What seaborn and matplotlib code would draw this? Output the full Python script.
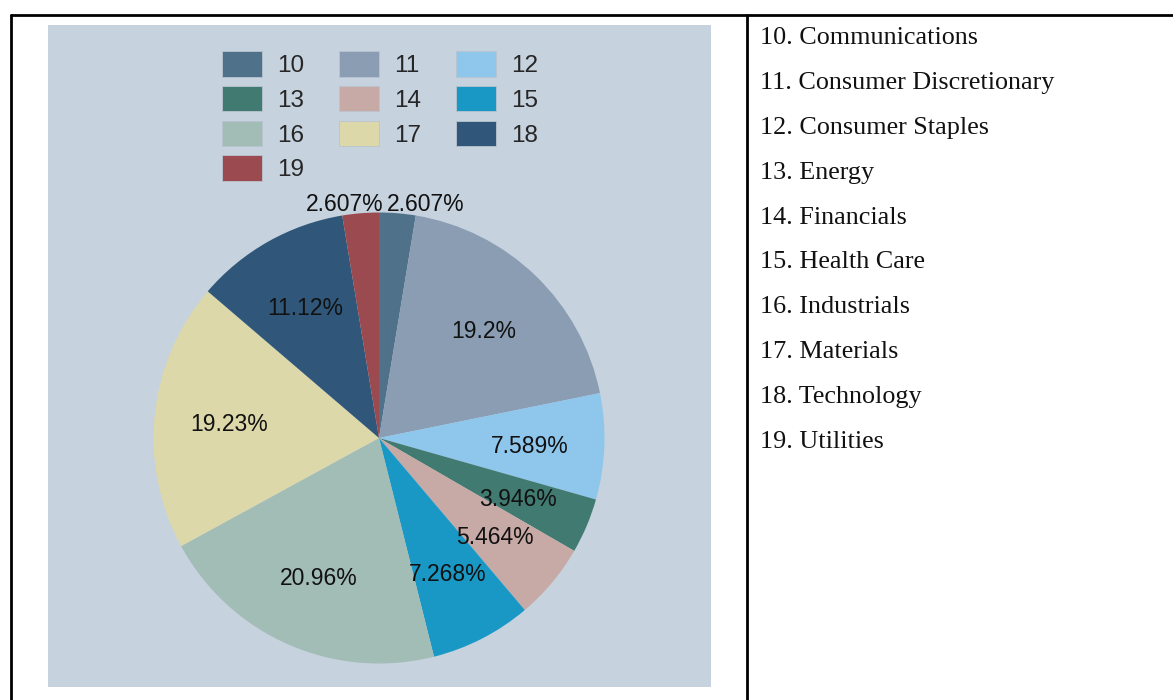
import numpy as np
import matplotlib
matplotlib.use("Agg")
import matplotlib.pyplot as plt
import seaborn as sns
from matplotlib.lines import Line2D
from matplotlib.patches import Patch

# data
codes = ['10', '11', '12', '13', '14', '15', '16', '17', '18', '19']
sectors = ['Communications', 'Consumer Discretionary', 'Consumer Staples', 'Energy',
           'Financials', 'Health Care', 'Industrials', 'Materials', 'Technology', 'Utilities']
shares = [2.607, 19.2, 7.589, 3.946, 5.464, 7.268, 20.96, 19.23, 11.12, 2.607]
share_labels = ['2.607%', '19.2%', '7.589%', '3.946%', '5.464%', '7.268%',
                '20.96%', '19.23%', '11.12%', '2.607%']
colors = ['#4f7189', '#8a9db2', '#8fc6ec', '#417a70', '#c7a9a5',
          '#1998c5', '#a2bcb6', '#dcd8aa', '#305779', '#9b4a4f']

sns.set_theme(style='white')
plt.rcParams['font.family'] = ['Liberation Sans', 'DejaVu Sans']
palette = sns.color_palette(colors)

W, H = 1173, 700
fig = plt.figure(figsize=(W / 100, H / 100), dpi=100)
fig.patch.set_facecolor('white')

# table borders
lw = 2.0
fig.add_artist(Line2D([10.5 / W, 1], [1 - 14.5 / H, 1 - 14.5 / H], color='black', lw=lw))
fig.add_artist(Line2D([10.5 / W, 10.5 / W], [0, 1 - 14.5 / H], color='black', lw=lw))
fig.add_artist(Line2D([747 / W, 747 / W], [0, 1 - 14.5 / H], color='black', lw=lw))

# chart panel
x0, x1, y0, y1 = 48, 711, 25, 687
ax = fig.add_axes([x0 / W, 1 - y1 / H, (x1 - x0) / W, (y1 - y0) / H])
cx, cy, r = 379, 438, 225.5

wedges, _ = ax.pie(shares, colors=palette, startangle=90, counterclock=False,
                   radius=1, frame=True, wedgeprops=dict(linewidth=0))
ax.set_xlim(-(cx - x0) / r, (x1 - cx) / r)
ax.set_ylim(-(y1 - cy) / r, (cy - y0) / r)
ax.set_aspect('auto')
ax.set_facecolor('#c6d2de')
ax.set_xticks([])
ax.set_yticks([])
for s in ax.spines.values():
    s.set_visible(False)

for w, lab, v in zip(wedges, share_labels, shares):
    mid = np.deg2rad((w.theta1 + w.theta2) / 2)
    if v < 3:
        # small slices labelled just outside, next to the top edge
        side = np.sign(np.cos(mid))
        ax.text(0.028 + side * 0.007, 1.005, lab, ha='left' if side > 0 else 'right',
                va='baseline', fontsize=16.5, color='#111111')
    else:
        ax.text(0.67 * np.cos(mid), 0.67 * np.sin(mid), lab, ha='center',
                va='center_baseline', fontsize=16.5, color='#111111')

# legend filled row by row, 3 per row
handles = [Patch(facecolor=c, edgecolor='#b8c4d0', linewidth=0.6) for c in palette]
order = [0, 3, 6, 9, 1, 4, 7, 2, 5, 8]
ax.legend([handles[i] for i in order], [codes[i] for i in order], ncol=3, loc='upper left',
          bbox_to_anchor=(222 / W, 1 - 51 / H), bbox_transform=fig.transFigure,
          frameon=False, fontsize=17.5, borderpad=0, borderaxespad=0,
          handlelength=1.65, handleheight=1.25, handletextpad=0.6,
          columnspacing=1.45, labelspacing=0.36)

# sector key on the right
for i, (c, name) in enumerate(zip(codes, sectors)):
    fig.text(760 / W, 1 - (36 + i * 44.8) / H, f'{c}. {name}', ha='left', va='center_baseline',
             fontsize=18.8, family=['Liberation Serif', 'DejaVu Serif'], color='#111111')

fig.savefig('out.png', dpi=100)
